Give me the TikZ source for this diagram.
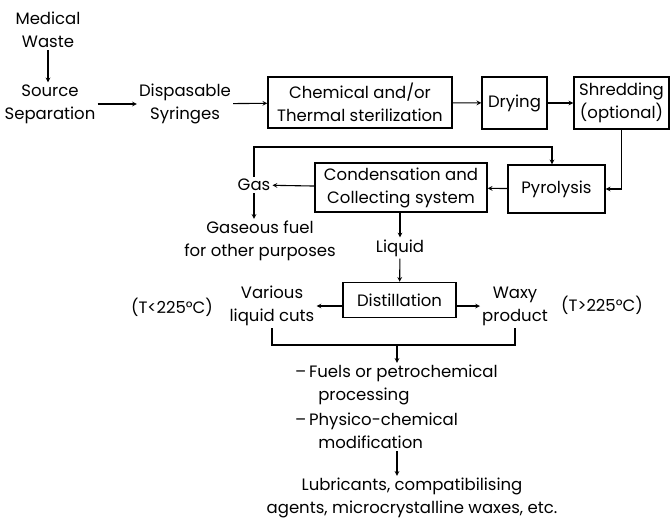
\documentclass[tikz,border=0pt]{standalone}
\usepackage{fontspec}
\setmainfont{Poppins}
\usetikzlibrary{arrows, positioning, calc}

\begin{document}
\begin{tikzpicture}[x=1pt, y=-1pt,
	% Define styles
	every node/.style={font=\fontsize{16.5}{23}\selectfont},
	procbox/.style={rectangle, draw=black, line width=1.4pt, align=center, inner sep=2pt},
	plain/.style={align=center, inner sep=2pt},
	connector/.style={->, line width=1.1pt, >=stealth, draw=black},
	line/.style={line width=1.1pt, draw=black}
	]
	\useasboundingbox (0,0) rectangle (671,522);

	% Input chain
	\node[plain] (waste) at (48,30) {Medical\\Waste};
	\node[plain] (source) at (50,104) {Source\\Separation};
	\node[plain] (syringes) at (185,104) {Dispasable\\Syringes};

	% Process boxes - top row
	\node[procbox, minimum width=184pt, minimum height=51pt] (chem) at (360,102.5) {Chemical and/or\\Thermal sterilization};
	\node[procbox, minimum width=65pt, minimum height=52pt] (drying) at (514.5,103) {Drying};
	\node[procbox, minimum width=95pt, minimum height=52pt] (shred) at (621.5,103) {Shredding\\(optional)};

	% Process boxes - second row
	\node[procbox, minimum width=97pt, minimum height=48pt] (pyro) at (556.5,189) {Pyrolysis};
	\node[procbox, minimum width=172pt, minimum height=49pt] (cond) at (401,187.5) {Condensation and\\Collecting system};

	% Gas branch
	\node[plain] (gas) at (254,185) {Gas};
	\node[plain] (gasfuel) at (260,241) {Gaseous fuel\\for other purposes};
	\coordinate (loop) at (552,147);

	% Liquid branch
	\node[plain] (liquid) at (400,248) {Liquid};
	\node[procbox, minimum width=113pt, minimum height=35pt] (dist) at (399.5,300) {Distillation};
	\node[plain] (cuts) at (272,306) {Various\\liquid cuts};
	\node[plain] (tlow) at (172,307) {(T<225°C)};
	\node[plain] (waxy) at (515,306) {Waxy\\product};
	\node[plain] (thigh) at (602,305) {(T>225°C)};
	\coordinate (join) at (397,345);

	% Uses and products
	\node[plain, anchor=west, align=left] (uses1) at (293,385) {–\,Fuels or petrochemical\\\hspace*{1.4em}processing};
	\node[plain, anchor=west, align=left] (uses2) at (293,431) {–\,Physico-chemical\\\hspace*{1.4em}modification};
	\node[plain] (products) at (412,498) {Lubricants, compatibilising\\agents, microcrystalline waxes, etc.};

	% Main flow
	\draw[connector] (waste) -- (source.north -| waste);
	\draw[connector] (source) -- (syringes);
	\draw[connector] (syringes) -- (chem);
	\draw[connector] (chem) -- (drying);
	\draw[connector] (drying) -- (shred);
	\draw[connector] (shred.south) |- (pyro.east);
	\draw[connector] (pyro) -- (cond);
	\draw[connector] (cond) -- (gas);
	\draw[connector] (gas.north) |- (loop) -- (pyro.north -| loop);
	\draw[connector] (gas) -- (gas |- gasfuel.north);
	\draw[connector] (cond.south -| liquid) -- (liquid);
	\draw[connector] (liquid) -- (dist);
	\draw[connector] (dist.west |- cuts.east) -- (cuts.east);
	\draw[connector] (dist.east |- waxy.west) -- (waxy.west);

	% Collecting bracket
	\draw[line] (cuts.south) |- (join) -| (waxy.south);
	\draw[connector] (join) -- (uses1.north -| join);
	\draw[connector] (uses2.south -| join) -- (products.north -| join);

\end{tikzpicture}
\end{document}
